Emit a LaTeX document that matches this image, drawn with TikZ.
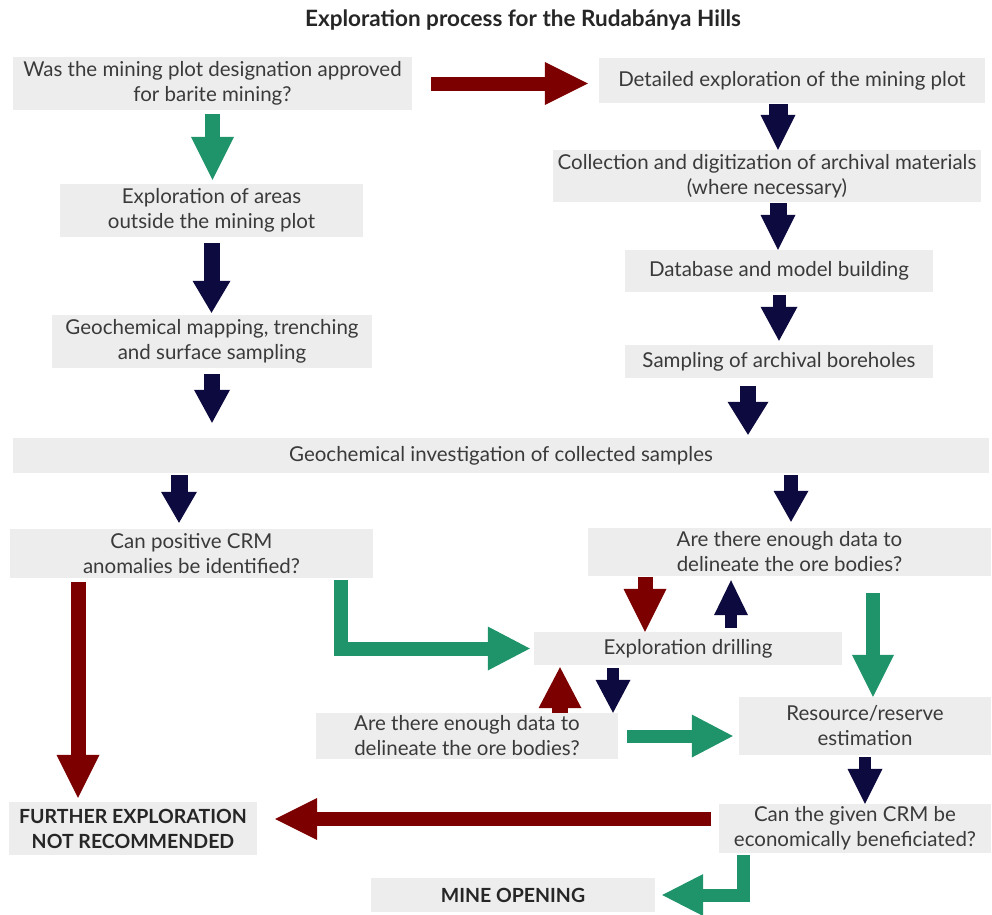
\documentclass[tikz,border=0pt]{standalone}
\usepackage{fontspec}
\setmainfont{Lato}
\usetikzlibrary{arrows.meta,calc}
\definecolor{navyc}{HTML}{0C0A3E}
\definecolor{redc}{HTML}{7D0000}
\definecolor{greenc}{HTML}{1F946A}
\definecolor{boxc}{HTML}{EDEDED}
\definecolor{txtc}{HTML}{3A3A3A}
\tikzset{
  box/.style={fill=boxc, draw=none, inner sep=0pt, align=center, text=txtc,
    font=\fontsize{20.5}{25}\selectfont},
  bbox/.style={box, text=black!85, font=\fontsize{19.5}{25}\selectfont\bfseries},
  blk/.style args={#1/#2/#3}{line width=#1pt, line cap=butt, line join=miter,
    -{Triangle[width=#2pt,length=#3pt,line width=0pt]}},
}
\begin{document}
\begin{tikzpicture}[x=1pt,y=-1pt]
\useasboundingbox (0,0) rectangle (992,914);
\node[text=black!85, font=\fontsize{22.5}{25}\selectfont\bfseries] (title) at (523,20) {Exploration process for the Rudabánya Hills};
\node[box, minimum width=399pt, minimum height=53pt] (q1) at (212.5,83.5) {Was the mining plot designation approved\\for barite mining?};
\node[box, minimum width=386pt, minimum height=45pt] (det) at (792,80.5) {Detailed exploration of the mining plot};
\node[box, minimum width=303pt, minimum height=53pt] (expa) at (211.5,210.5) {Exploration of areas\\outside the mining plot};
\node[box, minimum width=428pt, minimum height=52pt] (coll) at (767,176) {Collection and digitization of archival materials\\(where necessary)};
\node[box, minimum width=308pt, minimum height=42pt] (db) at (779,271) {Database and model building};
\node[box, minimum width=320pt, minimum height=53pt] (geomap) at (212,341.5) {Geochemical mapping, trenching\\and surface sampling};
\node[box, minimum width=308pt, minimum height=33pt] (samp) at (779,361.5) {Sampling of archival boreholes};
\node[box, minimum width=976pt, minimum height=35pt] (geoinv) at (501,455.5) {Geochemical investigation of collected samples};
\node[box, minimum width=363pt, minimum height=49pt] (canpos) at (191.5,553.5) {Can positive CRM\\anomalies be identified?};
\node[box, minimum width=403pt, minimum height=48pt] (enoughR) at (789.5,552) {Are there enough data to\\delineate the ore bodies?};
\node[box, minimum width=308pt, minimum height=33pt] (drill) at (688,648.5) {Exploration drilling};
\node[box, minimum width=302pt, minimum height=46pt] (enoughL) at (467,736) {Are there enough data to\\delineate the ore bodies?};
\node[box, minimum width=252pt, minimum height=58pt] (res) at (865,726) {Resource/reserve\\estimation};
\node[bbox, minimum width=248pt, minimum height=53pt] (further) at (133,828.5) {FURTHER EXPLORATION\\NOT RECOMMENDED};
\node[box, minimum width=272pt, minimum height=49pt] (canecon) at (855,828.5) {Can the given CRM be\\economically beneficiated?};
\node[bbox, minimum width=284pt, minimum height=34pt] (mine) at (513,895) {MINE OPENING};
% arrows
\draw[redc, blk=14/43/43, shorten <=19pt, shorten >=11pt] (q1.east) -- (q1.east -| det.west);
\draw[greenc, blk=15/43/43, shorten <=4pt, shorten >=4pt] (q1.south) -- (q1.south |- expa.north);
\draw[navyc, blk=16/38/32, shorten <=6pt, shorten >=2pt] (expa.south) -- (expa.south |- geomap.north);
\draw[navyc, blk=19/35/35, shorten <=1pt] ([xshift=-14pt]det.south) -- ([xshift=-14pt]det.south |- coll.north);
\draw[navyc, blk=17/35/35, shorten <=1pt] ([xshift=11pt]coll.south) -- ([xshift=11pt]coll.south |- db.north);
\draw[navyc, blk=13/37/34, shorten <=3pt, shorten >=4pt] (db.south) -- (db.south |- samp.north);
\draw[navyc, blk=16/36/33, shorten <=6pt, shorten >=15pt] (geomap.south) -- (geomap.south |- geoinv.north);
\draw[navyc, blk=16/41/33, shorten <=8pt, shorten >=3pt] ([xshift=-31pt]samp.south) -- ([xshift=-31pt]samp.south |- geoinv.north);
\draw[navyc, blk=17/36/31, shorten <=2pt, shorten >=6pt] ([xshift=-12.5pt]canpos.north |- geoinv.south) -- ([xshift=-12.5pt]canpos.north);
\draw[navyc, blk=14/35/31, shorten <=2pt, shorten >=6pt] ([xshift=1.5pt]enoughR.north |- geoinv.south) -- ([xshift=1.5pt]enoughR.north);
\draw[redc, blk=15/43/43, shorten <=4pt, shorten >=4pt] ([xshift=-55pt]further.north |- canpos.south) -- ([xshift=-55pt]further.north);
\draw[greenc, blk=14/44/42, shorten <=2pt, shorten >=4pt] ([xshift=149.5pt]canpos.south) |- (drill.west);
\draw[redc, blk=15/43/43, shorten <=1pt] ([xshift=-43pt]drill.north |- enoughR.south) -- ([xshift=-43pt]drill.north);
\draw[navyc, blk=12/34/35, shorten <=4pt, shorten >=4pt] ([xshift=43pt]drill.north) -- ([xshift=43pt]drill.north |- enoughR.south);
\draw[greenc, blk=14/42/42, shorten <=17pt] ([xshift=8pt]res.north |- enoughR.south) -- ([xshift=8pt]res.north);
\draw[redc, blk=16/43/41, shorten >=2pt] ([xshift=93pt]enoughL.north) -- ([xshift=93pt]enoughL.north |- drill.south);
\draw[navyc, blk=12/35/33, shorten <=3pt] ([xshift=146pt]enoughL.north |- drill.south) -- ([xshift=146pt]enoughL.north);
\draw[greenc, blk=13/43/41, shorten <=9pt, shorten >=6pt] (enoughL.east) -- (enoughL.east -| res.west);
\draw[navyc, blk=12/35/35, shorten <=2pt] (res.south) -- (res.south |- canecon.north);
\draw[redc, blk=14/42/42, shorten <=8pt, shorten >=18pt] ([yshift=9.5pt]canecon.west) -- ([yshift=9.5pt]canecon.west -| further.east);
\draw[greenc, blk=13/42/41, shorten <=2pt, shorten >=7pt] ([xshift=-112pt]canecon.south) |- (mine.east);
\end{tikzpicture}
\end{document}
